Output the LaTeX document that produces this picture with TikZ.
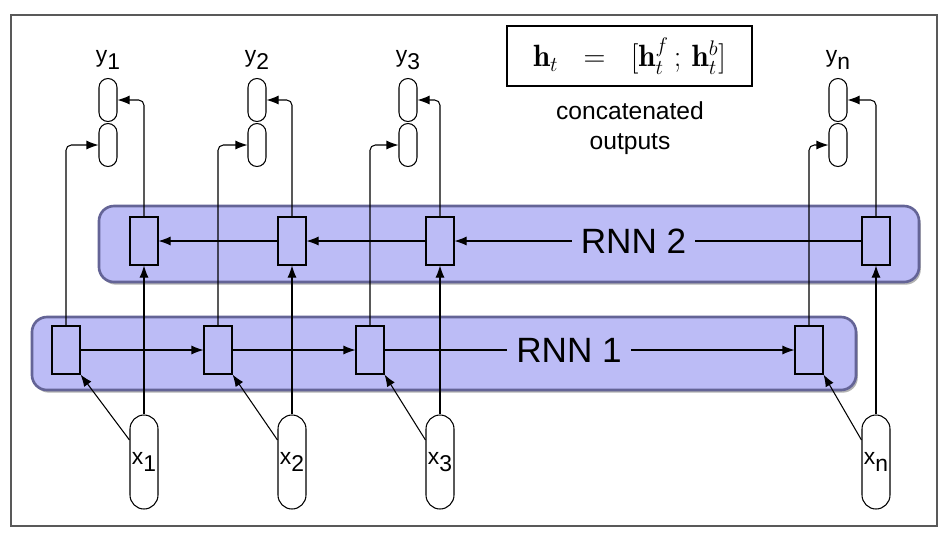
\documentclass[tikz,border=0pt]{standalone}
\usepackage{amsmath}
\usepackage{fontspec}
\setsansfont{Liberation Sans}
\usetikzlibrary{arrows.meta,positioning,shadows}

\definecolor{bandblue}{RGB}{188,188,246}
\definecolor{bandedge}{RGB}{100,100,150}

\tikzset{
  band/.style={draw=bandedge, line width=1.5pt, fill=bandblue, rounded corners=0.3cm,
    drop shadow={shadow xshift=1pt, shadow yshift=-1.5pt, fill=black!60, opacity=0.5}},
  cell/.style={draw, fill=bandblue, line width=0.6pt, minimum width=0.56cm, minimum height=0.96cm, inner sep=0},
  outcap/.style={draw, fill=white, line width=0.6pt, rounded corners=0.18cm, minimum width=0.36cm, minimum height=0.86cm, inner sep=0},
  incap/.style={draw, fill=white, line width=0.6pt, rounded corners=0.28cm, minimum width=0.56cm, minimum height=1.88cm, inner sep=0, font=\sffamily\fontsize{13}{15}\selectfont},
  conn/.style={line width=0.6pt, -{Latex[length=2.4mm,width=1.8mm]}},
  lab/.style={font=\sffamily\fontsize{13}{15}\selectfont, inner sep=0},
  rnnlab/.style={font=\sffamily\fontsize{20}{24}\selectfont, fill=bandblue, inner sep=5pt}
}
\newcommand{\vsub}[2]{#1\raisebox{-0.55ex}{#2}}

\begin{document}
\begin{tikzpicture}[x=0.2mm,y=-0.2mm]
\useasboundingbox (0,0) rectangle (948,534);
\draw[black!65, line width=0.8pt] (11,15) rectangle (937,526);

% the two layers
\node[band, minimum width=16.4cm, minimum height=1.52cm] (rnn2) at (509,244) {};
\node[band, minimum width=16.48cm, minimum height=1.46cm] (rnn1) at (444,353.5) {};

\foreach \i/\xf/\xb/\xy in {1/66/144/108, 2/218/292/257, 3/370/440/408, n/809/876/838}{
	\node[cell] (f\i) at (\xf,350) {};
	\node[cell] (b\i) at (\xb,241) {};
	\node[outcap] (yt\i) at (\xy,100) {};
	\node[outcap] (yb\i) at (\xy,145) {};
	\node[lab, above=0.16cm of yt\i] (ylab\i) {\vsub{y}{\i}};
	\node[incap] (x\i) at (\xb,462) {\vsub{x}{\i}};
	\draw[conn, rounded corners=3pt] (f\i.north) |- (yb\i.west);
	\draw[conn, rounded corners=3pt] (b\i.north) |- (yt\i.east);
	\draw[conn] (x\i.north) -- (b\i.south);
	\draw[conn] ([yshift=0.44cm]x\i.west) -- (f\i.south east);
}

% forward and backward links
\draw[conn] (f1) -- (f2);
\draw[conn] (f2) -- (f3);
\draw[conn] (f3) -- node[rnnlab, pos=0.45] (rnnlab1) {RNN 1} (fn);
\draw[conn] (b2) -- (b1);
\draw[conn] (b3) -- (b2);
\draw[conn] (bn) -- node[rnnlab, pos=0.56] (rnnlab2) {RNN 2} (b3);

%concatenation
\node[draw, line width=1pt, minimum width=4.9cm, minimum height=1.2cm] (eq) at (629.5,56)
	{\fontsize{17.5}{20}\selectfont$\mathbf{h}_t \;\;=\;\; [\mathbf{h}^{f}_{t}\,;\,\mathbf{h}^{b}_{t}]$};
\node[lab, font=\sffamily\fontsize{14}{17}\selectfont, align=center] (concat) at (630,128) {concatenated\\outputs};

\end{tikzpicture}
\end{document}
